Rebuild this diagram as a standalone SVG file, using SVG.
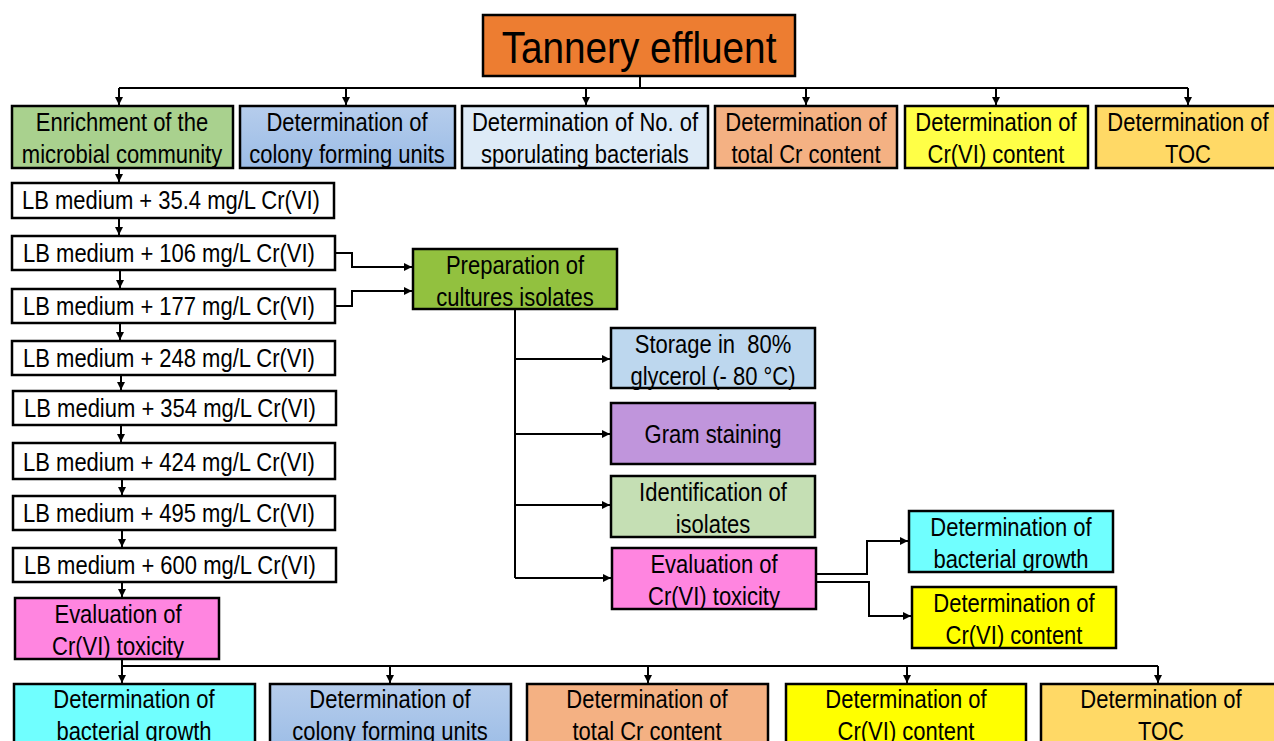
<svg xmlns="http://www.w3.org/2000/svg" width="1274" height="741" viewBox="0 0 1274 741">
<defs>
<marker id="ah" viewBox="0 0 10 10" refX="10" refY="5" markerWidth="4" markerHeight="4" orient="auto" markerUnits="strokeWidth">
<path d="M0,0 L10,5 L0,10 z" fill="#000"/>
</marker>
<linearGradient id="blue" x1="0" y1="0" x2="0" y2="1">
<stop offset="0" stop-color="#B6CDEC"/>
<stop offset="1" stop-color="#9BBCE6"/>
</linearGradient>
</defs>
<style>
rect{stroke:#000;stroke-width:2.5}
text{font-family:"Liberation Sans",Arial,sans-serif;font-size:25px;fill:#000;text-anchor:middle;transform-box:fill-box;transform-origin:center;transform:scaleX(0.88)}
.title{font-size:44px}
.c{fill:none;stroke:#000;stroke-width:2;marker-end:url(#ah)}
.l{fill:none;stroke:#000;stroke-width:2}
</style>
<rect width="1274" height="741" fill="#fff" style="stroke:none"/>

<g id="connectors">
<path class="l" d="M640,76 V88 M119,88 H1188"/>
<path class="c" d="M119,88 V105"/>
<path class="c" d="M346,88 V105"/>
<path class="c" d="M586,88 V105"/>
<path class="c" d="M806,88 V105"/>
<path class="c" d="M996,88 V105"/>
<path class="c" d="M1188,88 V105"/>
<path class="c" d="M119,168 V182"/>
<path class="c" d="M119,218 V235"/>
<path class="c" d="M120,270 V288"/>
<path class="c" d="M120,323 V340"/>
<path class="c" d="M121,375 V390"/>
<path class="c" d="M121,425 V442"/>
<path class="c" d="M122,479 V495"/>
<path class="c" d="M122,530 V547"/>
<path class="c" d="M122,582 V597"/>
<path class="c" d="M335,253 H352 V267 H412"/>
<path class="c" d="M335,306 H352 V291 H412"/>
<path class="l" d="M515,309 V578"/>
<path class="c" d="M515,359 H610"/>
<path class="c" d="M515,434 H610"/>
<path class="c" d="M515,505 H610"/>
<path class="c" d="M515,578 H611"/>
<path class="c" d="M816,574 H867 V541 H908"/>
<path class="c" d="M816,582 H869 V616 H911"/>
<path class="l" d="M122,659 V666 M122,666 H1158"/>
<path class="c" d="M122,666 V683"/>
<path class="c" d="M390,666 V683"/>
<path class="c" d="M648,666 V683"/>
<path class="c" d="M907,666 V683"/>
<path class="c" d="M1158,666 V683"/>
</g>

<g id="title"><rect x="483" y="15" width="312" height="61" fill="#ED7D31"/><text class="title" x="639" y="63">Tannery effluent</text></g>

<g id="enrich"><rect x="12" y="106" width="221" height="62" fill="#A9D18E"/><text x="122" y="131">Enrichment of the</text><text x="122" y="163">microbial community</text></g>
<g id="cfu1"><rect x="240" y="106" width="215" height="62" fill="url(#blue)"/><text x="347" y="131">Determination of</text><text x="347" y="163">colony forming units</text></g>
<g id="spor"><rect x="462" y="106" width="246" height="62" fill="#DEEBF7"/><text x="585" y="131">Determination of No. of</text><text x="585" y="163">sporulating bacterials</text></g>
<g id="totcr1"><rect x="715" y="106" width="182" height="62" fill="#F4B183"/><text x="806" y="131">Determination of</text><text x="806" y="163">total Cr content</text></g>
<g id="cr6a"><rect x="905" y="106" width="183" height="62" fill="#FFFF47"/><text x="996" y="131">Determination of</text><text x="996" y="163">Cr(VI) content</text></g>
<g id="toc1"><rect x="1096" y="106" width="186" height="62" fill="#FFD966"/><text x="1188" y="131">Determination of</text><text x="1188" y="163">TOC</text></g>

<g id="lb1"><rect x="12" y="183" width="322" height="35" fill="#fff"/><text x="171" y="209">LB medium + 35.4 mg/L Cr(VI)</text></g>
<g id="lb2"><rect x="12" y="236" width="323" height="34" fill="#fff"/><text x="169" y="262">LB medium + 106 mg/L Cr(VI)</text></g>
<g id="lb3"><rect x="12" y="289" width="323" height="34" fill="#fff"/><text x="169" y="315">LB medium + 177 mg/L Cr(VI)</text></g>
<g id="lb4"><rect x="12" y="341" width="323" height="34" fill="#fff"/><text x="169" y="367">LB medium + 248 mg/L Cr(VI)</text></g>
<g id="lb5"><rect x="13" y="391" width="323" height="34" fill="#fff"/><text x="170" y="417">LB medium + 354 mg/L Cr(VI)</text></g>
<g id="lb6"><rect x="13" y="443" width="322" height="36" fill="#fff"/><text x="169" y="471">LB medium + 424 mg/L Cr(VI)</text></g>
<g id="lb7"><rect x="13" y="496" width="322" height="34" fill="#fff"/><text x="169" y="522">LB medium + 495 mg/L Cr(VI)</text></g>
<g id="lb8"><rect x="13" y="548" width="323" height="34" fill="#fff"/><text x="170" y="574">LB medium + 600 mg/L Cr(VI)</text></g>
<g id="eval1"><rect x="15" y="598" width="204" height="61" fill="#FF85E0"/><text x="118" y="623">Evaluation of</text><text x="118" y="655">Cr(VI) toxicity</text></g>

<g id="prep"><rect x="413" y="249" width="204" height="60" fill="#92C13F"/><text x="515" y="274">Preparation of</text><text x="515" y="306">cultures isolates</text></g>
<g id="storage"><rect x="611" y="328" width="204" height="60" fill="#BDD7EE"/><text x="713" y="353" xml:space="preserve">Storage in  80%</text><text x="713" y="385">glycerol (- 80 °C)</text></g>
<g id="gram"><rect x="611" y="403" width="204" height="61" fill="#C095DC"/><text x="713" y="443">Gram staining</text></g>
<g id="ident"><rect x="611" y="476" width="204" height="61" fill="#C5DFB4"/><text x="713" y="501">Identification of</text><text x="713" y="533">isolates</text></g>
<g id="eval2"><rect x="612" y="548" width="204" height="61" fill="#FF85E0"/><text x="714" y="573">Evaluation of</text><text x="714" y="605">Cr(VI) toxicity</text></g>
<g id="grow2"><rect x="909" y="511" width="204" height="61" fill="#70FFFF"/><text x="1011" y="536">Determination of</text><text x="1011" y="568">bacterial growth</text></g>
<g id="cr6b"><rect x="912" y="587" width="204" height="61" fill="#FFFF00"/><text x="1014" y="612">Determination of</text><text x="1014" y="644">Cr(VI) content</text></g>

<g id="grow3"><rect x="14" y="684" width="241" height="70" fill="#70FFFF"/><text x="134" y="708">Determination of</text><text x="134" y="740">bacterial growth</text></g>
<g id="cfu3"><rect x="270" y="684" width="241" height="70" fill="url(#blue)"/><text x="390" y="708">Determination of</text><text x="390" y="740">colony forming units</text></g>
<g id="totcr3"><rect x="527" y="684" width="241" height="70" fill="#F4B183"/><text x="647" y="708">Determination of</text><text x="647" y="740">total Cr content</text></g>
<g id="cr6c"><rect x="786" y="684" width="240" height="70" fill="#FFFF00"/><text x="906" y="708">Determination of</text><text x="906" y="740">Cr(VI) content</text></g>
<g id="toc3"><rect x="1041" y="684" width="240" height="70" fill="#FFD966"/><text x="1161" y="708">Determination of</text><text x="1161" y="740">TOC</text></g>
</svg>
